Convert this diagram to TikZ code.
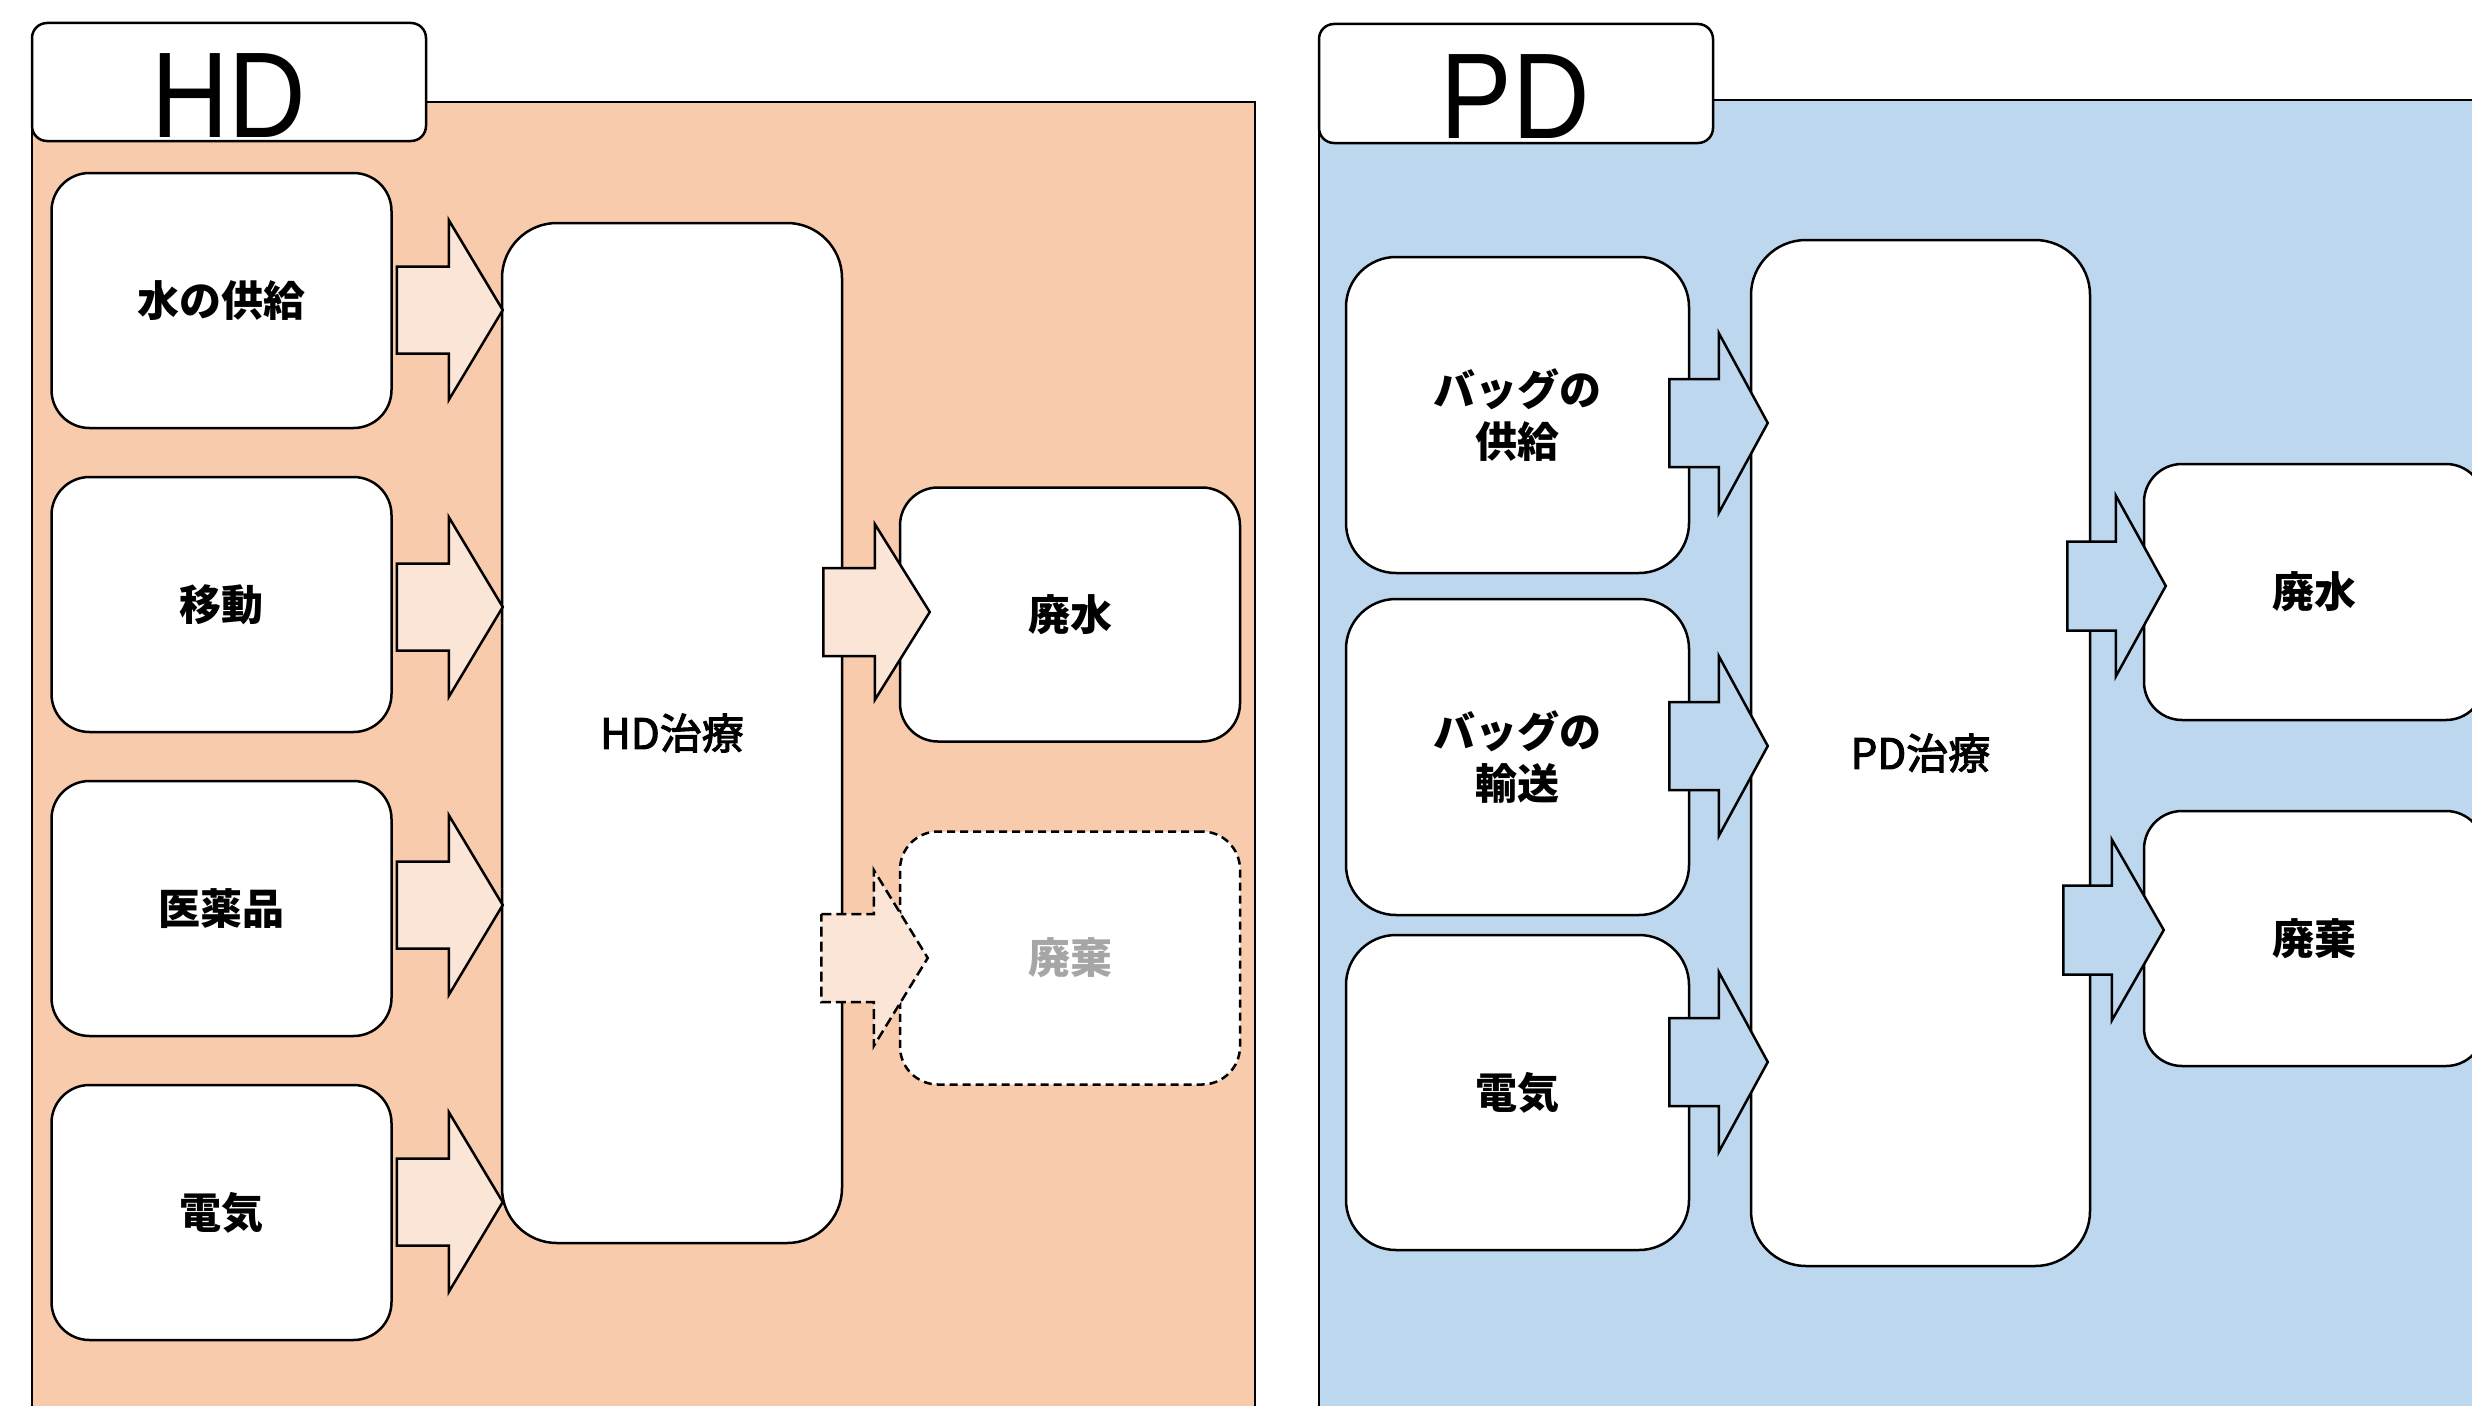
\documentclass[tikz,border=0pt]{standalone}
\usepackage{fontspec}
\setmainfont{Liberation Sans}
\newfontfamily\titlefont{Liberation Sans}[FakeStretch=0.88]
\newfontfamily\jp{Noto Sans CJK JP}
\newfontfamily\jpm{Noto Sans CJK JP}[FakeBold=2.5]
\usetikzlibrary{calc}
\definecolor{hdbg}{HTML}{F8CBAD}
\definecolor{hdarr}{HTML}{FBE5D6}
\definecolor{pdbg}{HTML}{BDD7EE}
\definecolor{ghost}{HTML}{A6A6A6}
\tikzset{
  panel/.style={draw=black, line width=2.5pt},
  tabbox/.style={draw=black, fill=white, line width=2.5pt, rounded corners=15pt, inner sep=0pt},
  titletext/.style={anchor=base, inner sep=0pt, font=\titlefont\fontsize{122}{122}\selectfont},
  box/.style={draw=black, fill=white, line width=2.5pt, align=center, inner sep=0pt,
    font=\jp\bfseries\fontsize{42}{52}\selectfont},
  mainbox/.style={box, font=\jpm\fontsize{42}{52}\selectfont},
  ghostbox/.style={box, dash pattern=on 8pt off 5pt, text=ghost},
  harrow/.style={draw=black, fill=hdarr, line width=2.5pt, line join=miter},
  parrow/.style={draw=black, fill=pdbg, line width=2.5pt, line join=miter},
}
% #1 style, #2 start coordinate, #3 tip coordinate, #4 half shaft, #5 half head, #6 head length
\newcommand\blockarrow[6]{%
  \draw[#1] let \p1=(#2), \p2=(#3) in
    (\x1,{\y2+#4pt}) -- ({\x2-#6pt},{\y2+#4pt}) -- ({\x2-#6pt},{\y2+#5pt}) --
    (\x2,\y2) -- ({\x2-#6pt},{\y2-#5pt}) -- ({\x2-#6pt},{\y2-#4pt}) --
    (\x1,{\y2-#4pt}) -- cycle;}
\begin{document}
\begin{tikzpicture}[x=1pt,y=-1pt]
\useasboundingbox (0,0) rectangle (2472,1405);
\clip (0,0) rectangle (2472,1405);
\fill[white] (0,0) rectangle (2472,1405);

% panels
\path[panel, fill=hdbg] (32,102) rectangle (1255,1460);
\path[panel, fill=pdbg] (1319,100) rectangle (2560,1460);

% tabs
\node[tabbox, minimum width=394pt, minimum height=118pt] (hdtab) at (229,82) {};
\node[titletext] (hdtitle) at (229,137) {HD};
\node[tabbox, minimum width=394pt, minimum height=119pt] (pdtab) at (1516,83.5) {};
\node[titletext] (pdtitle) at (1515,138) {PD};

% HD boxes
\node[box, minimum width=340pt, minimum height=255pt, rounded corners=38pt] (hw) at (221.5,300.5) {水の供給};
\node[box, minimum width=340pt, minimum height=255pt, rounded corners=38pt] (hm) at (221.5,604.5) {移動};
\node[box, minimum width=340pt, minimum height=255pt, rounded corners=38pt] (hi) at (221.5,908.5) {医薬品};
\node[box, minimum width=340pt, minimum height=255pt, rounded corners=38pt] (he) at (221.5,1212.5) {電気};
\node[mainbox, minimum width=340pt, minimum height=1020pt, rounded corners=55pt] (ht) at (672,733) {HD治療};
\node[box, minimum width=340pt, minimum height=254pt, rounded corners=38pt] (hww) at (1070,614.5) {廃水};
\node[ghostbox, minimum width=340pt, minimum height=253pt, rounded corners=38pt] (hwd) at (1070,958) {廃棄};

% HD arrows
\blockarrow{harrow}{[xshift=4pt]hw.east}{[xshift=2pt]ht.west |- 0,310}{43.5}{90}{54}
\blockarrow{harrow}{[xshift=4pt]hm.east}{[xshift=2pt]ht.west |- 0,607}{43.5}{90}{54}
\blockarrow{harrow}{[xshift=4pt]hi.east}{[xshift=2pt]ht.west |- 0,905}{43.5}{90}{54}
\blockarrow{harrow}{[xshift=4pt]he.east}{[xshift=2pt]ht.west |- 0,1202}{43.5}{90}{54}
\blockarrow{harrow}{[xshift=-20pt]ht.east}{[xshift=31pt]hww.west |- 0,612}{44}{88}{55}
\blockarrow{harrow, dash pattern=on 10pt off 5pt}{[xshift=-22pt]ht.east}{[xshift=29pt]hwd.west |- 0,958}{44}{88}{54}

% PD boxes
\node[box, minimum width=343pt, minimum height=316pt, rounded corners=50pt] (pb1) at (1517.5,415) {バッグの\\供給};
\node[box, minimum width=343pt, minimum height=316pt, rounded corners=50pt] (pb2) at (1517.5,757) {バッグの\\輸送};
\node[box, minimum width=343pt, minimum height=315pt, rounded corners=50pt] (pb3) at (1517.5,1092.5) {電気};
\node[mainbox, minimum width=339pt, minimum height=1026pt, rounded corners=55pt] (pt) at (1920.5,753) {PD治療};
\node[box, minimum width=340pt, minimum height=256pt, rounded corners=38pt] (pw1) at (2314,592) {廃水};
\node[box, minimum width=340pt, minimum height=255pt, rounded corners=38pt] (pw2) at (2314,938.5) {廃棄};

% PD arrows
\blockarrow{parrow}{[xshift=-21pt]pb1.east}{[xshift=18pt]pt.west |- 0,423}{44}{90}{49}
\blockarrow{parrow}{[xshift=-21pt]pb2.east}{[xshift=18pt]pt.west |- 0,746}{44}{90}{49}
\blockarrow{parrow}{[xshift=-21pt]pb3.east}{[xshift=18pt]pt.west |- 0,1062}{44}{90}{49}
\blockarrow{parrow}{[xshift=-24pt]pt.east}{[xshift=23pt]pw1.west |- 0,586}{44.5}{90.5}{50}
\blockarrow{parrow}{[xshift=-28pt]pt.east}{[xshift=21pt]pw2.west |- 0,930}{44.5}{90.5}{52}
\end{tikzpicture}
\end{document}
